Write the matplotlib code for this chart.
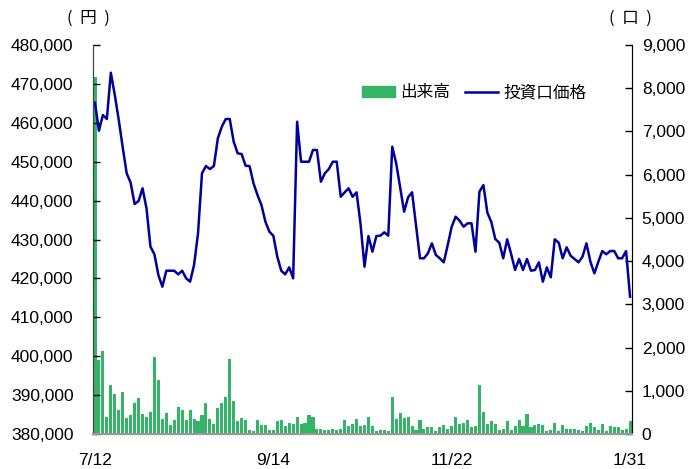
import numpy as np
import matplotlib.pyplot as plt
from matplotlib.patches import Patch
from matplotlib.lines import Line2D

# 投資口価格（円）
price = [
    465170, 457970, 462000, 460980, 472880, 467150, 460720, 453700, 447020, 444600,
    439130, 439900, 443160, 438020, 428150, 426200, 420870, 417870, 421980, 421980,
    421980, 421050, 421980, 420030, 419160, 423450, 431590, 447020, 448890, 448120,
    448890, 456010, 459000, 460980, 460980, 455140, 452160, 451980, 448970, 448890,
    444450, 441440, 438870, 434580, 432010, 430980, 425580, 421980, 421050, 422850,
    420030, 460280, 450000, 450000, 450000, 453010, 453010, 444860, 447020, 448120,
    450000, 450000, 441000, 442130, 443160, 441000, 442130, 434000, 423010, 430900,
    426860, 430900, 430980, 431850, 430980, 453860, 449590, 443420, 437150, 440850,
    442130, 433730, 425170, 425170, 426450, 429020, 426020, 425170, 424140, 428590,
    433290, 435860, 434830, 433290, 434160, 434160, 426860, 442290, 444010, 436890,
    434500, 430130, 429180, 425170, 430050, 426270, 422160, 424990, 422160, 424990,
    421980, 422160, 424140, 419160, 422850, 420280, 430050, 429180, 425170, 428000,
    425840, 424990, 424140, 425580, 429020, 424290, 421310, 424290, 427040, 426200,
    427040, 427040, 425170, 425170, 427040, 415300,
]

# 出来高（口）
volume = [
    8250, 1710, 1920, 390, 1130, 930, 560, 970, 370, 440,
    720, 830, 460, 390, 510, 1780, 1250, 350, 490, 210,
    320, 620, 560, 320, 560, 350, 300, 440, 720, 350,
    230, 600, 720, 860, 1740, 760, 300, 370, 320, 90,
    70, 320, 210, 210, 90, 90, 300, 320, 190, 250,
    230, 390, 230, 250, 440, 390, 120, 120, 90, 90,
    120, 90, 120, 320, 190, 230, 350, 190, 210, 390,
    190, 70, 90, 90, 70, 860, 350, 490, 370, 390,
    190, 90, 320, 120, 160, 160, 70, 160, 210, 120,
    190, 390, 230, 250, 320, 160, 190, 1130, 510, 230,
    300, 230, 90, 120, 300, 90, 190, 320, 190, 460,
    160, 210, 230, 210, 70, 90, 250, 70, 210, 120,
    120, 120, 90, 70, 190, 250, 160, 90, 230, 70,
    190, 160, 160, 90, 120, 300,
]

tick_labels = ['7/12', '9/14', '11/22', '1/31']
tick_idx = [0, 45, 90, 135]

plt.rcParams['font.family'] = ['Liberation Sans', 'Noto Sans CJK JP']
jp = ['Noto Sans CJK JP', 'Liberation Sans']

bar_color = '#33b466'
line_color = '#00009c'

fig = plt.figure(figsize=(6.95, 4.69), dpi=100)
ax_vol = fig.add_axes([0.1338, 0.0746, 0.7756, 0.8294])
ax_price = ax_vol.twinx()

x = np.arange(len(volume))
ax_vol.bar(x, volume, width=0.78, color=bar_color, linewidth=0)
ax_price.plot(np.arange(len(price)), price, color=line_color, linewidth=1.8)

ax_vol.set_xlim(-0.5, len(volume) - 0.5)
ax_vol.set_ylim(0, 9000)
ax_price.set_ylim(380000, 480000)

# 出来高は右軸、価格は左軸
ax_vol.yaxis.tick_right()
ax_price.yaxis.tick_left()
ax_vol.set_yticks(np.arange(0, 9001, 1000))
ax_price.set_yticks(np.arange(380000, 480001, 10000))
ax_vol.yaxis.set_major_formatter(lambda v, p: f'{int(v):,}')
ax_price.yaxis.set_major_formatter(lambda v, p: f'{int(v):,}')
ax_vol.tick_params(axis='y', direction='in', length=5, width=1, pad=7, labelsize=12.5, colors='black')
ax_price.tick_params(axis='y', direction='in', length=5, width=1, pad=14, labelsize=12.5, colors='black')

ax_vol.set_xticks(tick_idx)
ax_vol.set_xticklabels(tick_labels)
ax_vol.tick_params(axis='x', length=0, pad=14, labelsize=12.5)

for ax in (ax_vol, ax_price):
    ax.spines['top'].set_visible(False)
    ax.spines['left'].set_color('#444444')
    ax.spines['right'].set_color('black')
    ax.spines['bottom'].set_color('#999999')
    ax.spines['bottom'].set_linewidth(1.5)

fig.text(88 / 695, 1 - 18 / 469, '(  円  )', ha='center', va='center', fontsize=12, family=jp)
fig.text(630 / 695, 1 - 18 / 469, '(  口  )', ha='center', va='center', fontsize=12, family=jp)

handles = [Patch(color=bar_color), Line2D([], [], color=line_color, linewidth=1.8)]
ax_price.legend(handles, ['出来高', '投資口価格'], loc='center right',
                bbox_to_anchor=(0.915, 0.877), ncol=2, frameon=False,
                prop={'family': jp, 'size': 12}, handlelength=2.0, handleheight=0.7,
                handletextpad=0.3, columnspacing=0.9, borderpad=0, borderaxespad=0)

fig.savefig('out.png', dpi=100)
